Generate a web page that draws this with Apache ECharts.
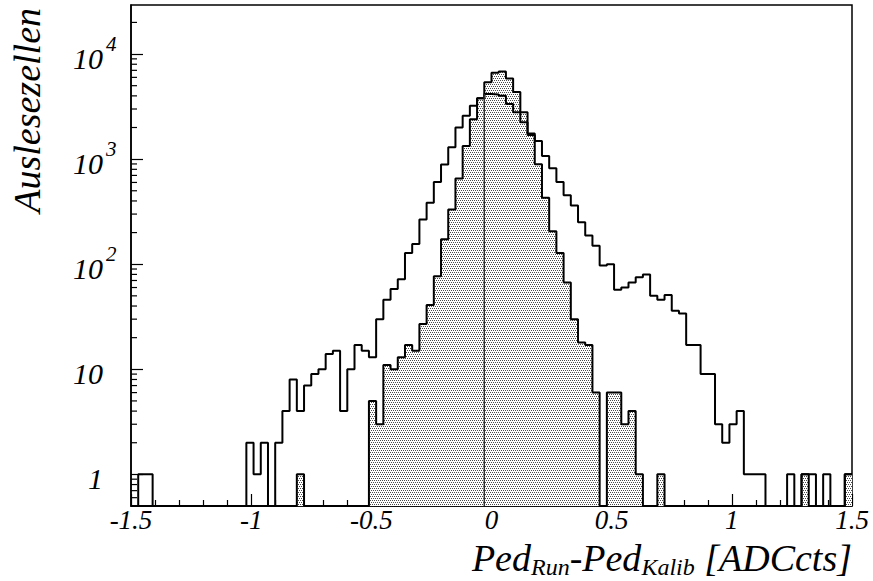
<!DOCTYPE html>
<html>
<head>
<meta charset="utf-8">
<script src="https://cdn.jsdelivr.net/npm/echarts@6/dist/echarts.min.js"></script>
<style>
html,body{margin:0;padding:0;background:#fff;}
#chart{width:873px;height:581px;}
</style>
</head>
<body>
<div id="chart"></div>
<script>
// ---------------- data ----------------
const histMin = -1.5;          // lower edge of the first bin
const binWidth = 0.03;         // bin width [ADC counts]
// counts per bin (100 bins from -1.5 to 1.5), unshaded histogram
const outlineCounts = [
  0,1,1,0,0,0,0,0,0,0,
  0,0,0,0,0,0,2,1,2,0,
  2,4,8,4,7,9,10,14,15,4,
  10,17,15,13,30,46,58,72,128,156,
  267,385,606,890,1300,2000,2590,3220,3800,4170,
  4120,4010,3340,2790,2240,1700,1490,1070,819,606,
  452,363,251,188,150,97,100,57,60,67,
  75,80,50,46,51,36,34,17,17,9,
  9,3,2,3,4,1,1,1,0,0,
  0,1,0,1,1,0,1,0,0,1
];
// counts per bin, shaded histogram
const shadedCounts = [
  0,0,0,0,0,0,0,0,0,0,
  0,0,0,0,0,0,0,0,0,0,
  0,0,0,1,0,0,0,0,0,0,
  0,0,0,5,3,11,10,13,17,15,
  27,41,77,173,332,655,1337,2400,3790,5390,
  6650,6810,5850,4350,2790,1750,893,430,206,128,
  67,30,18,17,6,0,6,6,3,4,
  1,0,0,1,0,0,0,0,0,0,
  0,0,0,0,0,0,0,0,0,0,
  0,0,0,1,0,0,0,0,0,1
];
// vertical reference line (bin edge) and the bin whose height it reaches
const refLineX = -0.03;
const refLineBin = 49;

// axis ranges and ticks
const xMin = -1.5, xMax = 1.5, xStep = 0.5;
const yMinVal = 0.5, yMaxVal = 29300;
const yMajorExp = [0, 1, 2, 3, 4];
const yMinorVals = [0.6,0.7,0.8,0.9, 2,3,4,5,6,7,8,9, 20,30,40,50,60,70,80,90,
  200,300,400,500,600,700,800,900, 2000,3000,4000,5000,6000,7000,8000,9000, 20000];

// texts
const yTitle = 'Auslesezellen';
const xTitleRich = '{m|Ped}{sub|Run}{m|-Ped}{sub|Kalib}{m| [ADCcts]}';

// ---------------- build ----------------
const FONT = "'Liberation Serif','DejaVu Serif',serif";
const yMin = Math.log10(yMinVal);
const yMax = Math.log10(yMaxVal);
function toY(c) { return c > 0 ? Math.log10(c) : yMin; }
function stepPoints(counts) {
  const pts = [];
  for (let k = 0; k < counts.length; k++) {
    const x0 = +(histMin + k * binWidth).toFixed(4);
    const x1 = +(histMin + (k + 1) * binWidth).toFixed(4);
    pts.push([x0, toY(counts[k])]);
    pts.push([x1, toY(counts[k])]);
  }
  return pts;
}

// dotted fill pattern
const pc = document.createElement('canvas');
pc.width = 4; pc.height = 4;
const g = pc.getContext('2d');
g.fillStyle = '#ffffff'; g.fillRect(0, 0, 4, 4);
g.fillStyle = '#4a4a4a';
g.fillRect(0, 0, 1, 1); g.fillRect(2, 0, 1, 1);
g.fillRect(1, 2, 1, 1); g.fillRect(3, 2, 1, 1);
const patternFill = { image: pc.toDataURL(), repeat: 'repeat', imageWidth: 4, imageHeight: 4 };

const chart = echarts.init(document.getElementById('chart'), null, { renderer: 'svg' });

const option = {
  animation: false,
  backgroundColor: '#fff',
  grid: { left: 131, right: 21, top: 5, bottom: 75, containLabel: false, outerBoundsMode: 'none',
          show: true, borderColor: '#000', borderWidth: 1.5, backgroundColor: 'transparent' },
  xAxis: {
    type: 'value', min: xMin, max: xMax, interval: xStep,
    axisLine: { show: true, onZero: false, lineStyle: { color: '#000', width: 1.5 } },
    axisTick: { show: true, inside: true, length: 12, lineStyle: { color: '#000', width: 1.2 } },
    minorTick: { show: true, splitNumber: 5, length: 6, lineStyle: { color: '#000', width: 1.2 } },
    splitLine: { show: false }, minorSplitLine: { show: false },
    axisLabel: { fontFamily: FONT, fontStyle: 'italic', fontSize: 27, lineHeight: 24, color: '#000', margin: 2 }
  },
  yAxis: {
    type: 'value', min: yMin, max: yMax, position: 'left',
    axisLine: { show: true, onZero: false, lineStyle: { color: '#000', width: 1.5 } },
    axisTick: { show: true, inside: true, length: 12, customValues: yMajorExp, lineStyle: { color: '#000', width: 1.2 } },
    splitLine: { show: false },
    axisLabel: {
      show: true, customValues: yMajorExp, align: 'left', margin: 58, padding: [8, 0, 0, 0],
      formatter: function (v) {
        const e = Math.round(v);
        if (e === 0) return '{b|1}';
        if (e === 1) return '{b|10}';
        return '{b|10}{s|' + e + '}';
      },
      rich: {
        b: { fontFamily: FONT, fontStyle: 'italic', fontSize: 30, height: 48, lineHeight: 48, width: 30, align: 'right', verticalAlign: 'top', color: '#000' },
        s: { fontFamily: FONT, fontStyle: 'italic', fontSize: 21, height: 20, lineHeight: 20, verticalAlign: 'top', padding: [0, 0, 0, 3], color: '#000' }
      }
    }
  },
  graphic: [
    {
      type: 'text', x: 27, y: 8, rotation: Math.PI / 2, silent: true,
      style: { text: yTitle, fontFamily: FONT, fontStyle: 'italic', fontSize: 38, fill: '#000', align: 'right', verticalAlign: 'middle' }
    },
    {
      type: 'text', x: 852, y: 536, silent: true,
      style: {
        text: xTitleRich, align: 'right', verticalAlign: 'top',
        rich: {
          m: { fontFamily: FONT, fontStyle: 'italic', fontSize: 38, height: 44, lineHeight: 44, verticalAlign: 'top', fill: '#000' },
          sub: { fontFamily: FONT, fontStyle: 'italic', fontSize: 24, height: 28, lineHeight: 45, verticalAlign: 'bottom', fill: '#000' }
        }
      }
    }
  ],
  series: [
    {
      name: 'shaded', type: 'line', data: stepPoints(shadedCounts),
      symbol: 'none', lineStyle: { color: '#000', width: 2 },
      areaStyle: { color: patternFill, opacity: 1, origin: 'start' },
      z: 2, silent: true
    },
    {
      name: 'outline', type: 'line', data: stepPoints(outlineCounts),
      symbol: 'none', lineStyle: { color: '#000', width: 2 }, z: 3, silent: true
    },
    {
      name: 'refline', type: 'line',
      data: [[refLineX, yMin], [refLineX, toY(outlineCounts[refLineBin])]],
      symbol: 'none', lineStyle: { color: '#333', width: 1.5 }, z: 3, silent: true
    },
    {
      name: 'yMinorTicks', type: 'custom', silent: true, z: 5, clip: false,
      data: yMinorVals.map(v => [xMin, Math.log10(v)]),
      renderItem: function (params, api) {
        const p = api.coord([api.value(0), api.value(1)]);
        return { type: 'line', shape: { x1: p[0], y1: p[1], x2: p[0] + 6, y2: p[1] },
                 style: { stroke: '#000', lineWidth: 1.2 } };
      }
    }
  ]
};
chart.setOption(option);
</script>
</body>
</html>
